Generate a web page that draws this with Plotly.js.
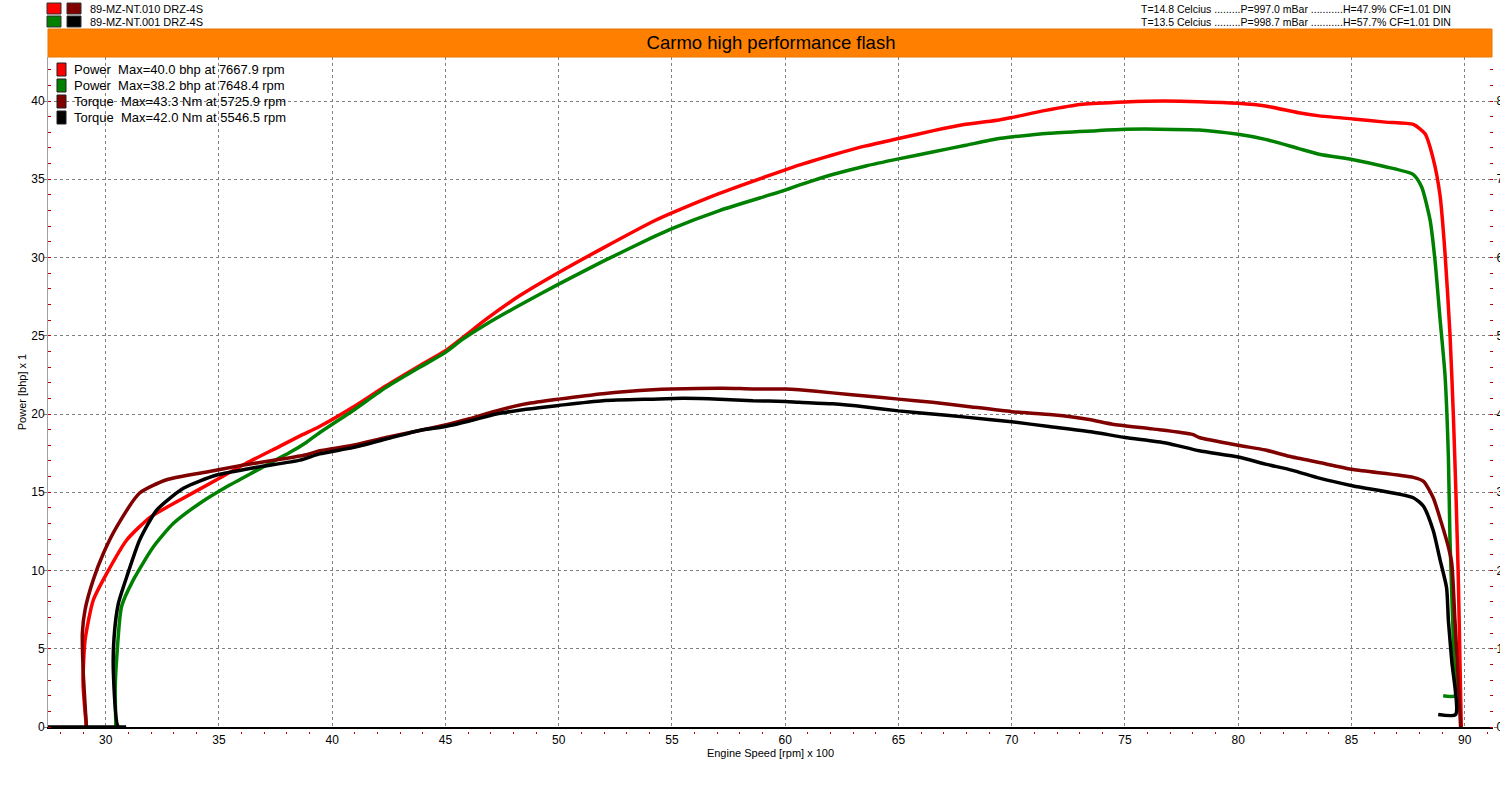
<!DOCTYPE html>
<html>
<head>
<meta charset="utf-8">
<script src="https://cdn.plot.ly/plotly-3.0.1.min.js"></script>
<style>html,body{margin:0;padding:0;background:#fff;}#chart{width:1500px;height:800px;}</style>
</head>
<body>
<div id="chart"></div>
<script>
// ---- Data (engine speed in rpm x 100) ----
const rpmPower010 = [29.15,29.0,29.09,29.45,30.04,30.93,31.96,33.28,34.9,36.2,37.7,38.58,39.44,40.91,42.38,43.86,45.0,45.77,46.8,48.27,50.0,51.95,54.16,55.0,57.1,60.0,60.61,61.51,62.09,63.56,65.0,66.5,67.97,69.44,70.0,71.5,73.13,75.0,76.68,78.28,80.0,81.2,82.67,83.58,85.08,86.5,87.73,88.25,88.61,88.91,89.13,89.35,89.5,89.62,89.72,89.79,89.85];
const power010 = [0,2.8,5.56,8.1,9.8,11.95,13.4,14.5,15.8,16.85,17.95,18.6,19.2,20.43,21.81,23.09,24.04,24.89,26.06,27.55,29.04,30.6,32.3,32.85,34.1,35.6,35.9,36.3,36.55,37.13,37.6,38.09,38.51,38.79,38.94,39.4,39.79,39.94,40.0,39.96,39.85,39.68,39.25,39.05,38.85,38.65,38.5,37.9,36.3,33.98,30.3,25.1,19.87,14.6,9.4,4.2,0];

const rpmPower001 = [30.45,30.42,30.49,30.7,31.22,32.1,32.98,34.16,35.34,36.67,38.14,38.87,39.44,40.91,42.38,43.86,45.0,45.77,46.8,48.27,50.0,51.95,54.16,55.0,57.1,60.0,60.61,61.51,62.09,63.56,65.0,66.5,67.97,69.44,70.0,71.65,73.57,75.0,76.48,78.28,80.0,81.2,82.67,83.58,85.08,86.5,87.73,88.1,88.47,88.69,88.91,89.13,89.28,89.35,89.47,89.53,89.57,89.05];
const power001 = [0,2.5,4.5,7.7,9.4,11.5,13.0,14.3,15.35,16.4,17.55,18.2,18.8,20.21,21.7,22.98,23.94,24.79,25.74,26.95,28.3,29.75,31.3,31.85,33.0,34.3,34.62,35.05,35.3,35.85,36.3,36.74,37.17,37.6,37.7,37.94,38.09,38.19,38.2,38.15,37.87,37.55,36.96,36.6,36.25,35.8,35.3,34.5,32.4,29.8,26.1,22.5,17.25,12.0,6.8,4.2,2.0,2.0];

const rpmTorque010 = [29.15,29.01,28.97,29.09,29.45,29.9,30.49,31.5,32.69,34.46,35.93,38.87,39.44,40.91,42.38,43.86,45.0,46.06,47.24,48.56,50.0,51.95,54.16,55.0,57.26,58.57,60.0,60.61,62.09,63.56,65.0,66.5,67.97,70.0,71.8,73.42,74.45,76.22,77.98,78.28,80.0,81.2,82.25,83.58,85.08,87.73,88.18,88.61,88.97,89.28,89.43,89.57,89.72,89.82];
const torque010 = [0,6.9,12.0,15.0,18.8,22.2,25.6,29.9,31.6,32.6,33.4,34.8,35.3,36.0,37.0,37.9,38.6,39.4,40.4,41.3,41.9,42.6,43.1,43.2,43.3,43.2,43.2,43.1,42.7,42.3,41.9,41.5,41.0,40.3,39.9,39.3,38.7,38.1,37.4,37.0,36.0,35.4,34.6,33.8,32.9,31.9,31.4,29.3,26.1,23.0,20.9,13.6,5.8,0];

const rpmTorque001 = [27.3,30.9,30.56,30.34,30.37,30.56,30.93,31.5,32.25,33.43,34.9,36.67,38.58,39.44,40.91,42.38,43.86,45.0,46.06,47.24,48.56,50.0,51.95,54.16,55.47,57.1,58.57,60.0,60.61,62.09,63.56,65.0,66.5,67.97,70.0,71.65,73.57,75.0,76.81,78.28,80.0,81.2,82.4,83.58,85.08,87.73,88.18,88.61,88.91,89.2,89.28,89.43,89.6,88.83];
const torque001 = [0,0,0,6.9,11.5,15.8,19.2,23.9,27.7,30.5,32.2,33.2,34.1,34.9,35.7,36.8,37.9,38.4,39.1,40.0,40.6,41.1,41.7,41.9,42.0,41.9,41.7,41.6,41.5,41.3,40.9,40.4,40.0,39.6,39.0,38.4,37.7,37.0,36.3,35.3,34.5,33.6,32.8,31.8,30.8,29.3,28.2,25.1,21.4,17.8,13.6,8.4,1.6,1.6];

const runNames = ['89-MZ-NT.010 DRZ-4S','89-MZ-NT.001 DRZ-4S'];
const conditions = ['T=14.8 Celcius .........P=997.0 mBar ...........H=47.9% CF=1.01 DIN',
                    'T=13.5 Celcius .........P=998.7 mBar ...........H=57.7% CF=1.01 DIN'];
const legendTexts = ['Power  Max=40.0 bhp at 7667.9 rpm','Power  Max=38.2 bhp at 7648.4 rpm',
                     'Torque  Max=43.3 Nm at 5725.9 rpm','Torque  Max=42.0 Nm at 5546.5 rpm'];
const seriesColors = ['#ff0000','#008000','#800000','#000000'];
const xTickVals = [30,35,40,45,50,55,60,65,70,75,80,85,90];

// ---- Layout geometry ----
const W=1500,H=800,L=48,R=7,T=57,B=69;
const PW=W-L-R, PH=H-T-B;
const pxX = p => (p-L)/PW;
const pxY = p => (H-B-p)/PH;
const yMax = (727-57)/15.65;
const FONT = 'Liberation Sans, Arial, sans-serif';

const lineStyle = c => ({color:c,width:3.5,shape:'spline',smoothing:0.6});
const traces = [
  {x:rpmPower010,y:power010,name:legendTexts[0],mode:'lines',line:lineStyle(seriesColors[0]),yaxis:'y',xaxis:'x'},
  {x:rpmPower001,y:power001,name:legendTexts[1],mode:'lines',line:lineStyle(seriesColors[1]),yaxis:'y',xaxis:'x'},
  {x:rpmTorque010,y:torque010,name:legendTexts[2],mode:'lines',line:lineStyle(seriesColors[2]),yaxis:'y2',xaxis:'x'},
  {x:rpmTorque001,y:torque001,name:legendTexts[3],mode:'lines',line:lineStyle(seriesColors[3]),yaxis:'y2',xaxis:'x'}
];

// minor x tick positions (every 1, skipping labelled ones)
const xMinor = [];
for (let v=28; v<=91; v++) if (v%5!==0) xMinor.push(v);

const shapes = [];
const annotations = [];
// orange title bar
shapes.push({type:'rect',xref:'paper',yref:'paper',x0:pxX(48),x1:pxX(1492),y0:pxY(57),y1:pxY(29),
  fillcolor:'#ff8000',line:{width:1,color:'#e87400'},layer:'above'});
// header run swatches
const swatchRows = [[seriesColors[0],seriesColors[2]],[seriesColors[1],seriesColors[3]]];
swatchRows.forEach((row,i)=>{
  const top = 3+i*13;
  row.forEach((c,j)=>{
    const left = 47+j*20;
    shapes.push({type:'rect',xref:'paper',yref:'paper',x0:pxX(left),x1:pxX(left+14),y0:pxY(top+11),y1:pxY(top),
      fillcolor:c,line:{width:1,color:'#303030'}});
  });
  annotations.push({xref:'paper',yref:'paper',x:pxX(88),y:pxY(top+6),xanchor:'left',yanchor:'middle',
    text:runNames[i],showarrow:false,font:{family:FONT,size:11,color:'#000'}});
  annotations.push({xref:'paper',yref:'paper',x:pxX(1453),y:pxY(top+6),xanchor:'right',yanchor:'middle',
    text:conditions[i],showarrow:false,font:{family:FONT,size:10.5,color:'#000'}});
});
// in-plot legend
legendTexts.forEach((t,i)=>{
  const top = 63+i*16;
  shapes.push({type:'rect',xref:'paper',yref:'paper',x0:pxX(57),x1:pxX(66),y0:pxY(top+13),y1:pxY(top),
    fillcolor:seriesColors[i],line:{width:1,color:'#202020'}});
  annotations.push({xref:'paper',yref:'paper',x:pxX(72),y:pxY(top+6.5),xanchor:'left',yanchor:'middle',
    text:t,showarrow:false,font:{family:FONT,size:13,color:'#000'}});
});

const layout = {
  width:W,height:H,
  margin:{l:L,r:R,t:T,b:B,pad:0},
  paper_bgcolor:'#ffffff',plot_bgcolor:'#ffffff',
  showlegend:false,
  font:{family:FONT,size:12,color:'#000'},
  title:{text:'Carmo high performance flash',x:771/W,xref:'container',xanchor:'center',
         y:1-43/H,yref:'container',yanchor:'middle',font:{family:FONT,size:18.5,color:'#000'}},
  xaxis:{range:[30+(48-105.7)/22.65, 30+(1493-105.7)/22.65],tickmode:'array',tickvals:xTickVals,
    ticks:'',ticklabelstandoff:1,showline:true,linecolor:'#000',linewidth:1.5,
    showgrid:true,gridcolor:'#808080',griddash:'3px,3px',gridwidth:1,zeroline:false,
    tickfont:{family:FONT,size:12},
    title:{text:'Engine Speed [rpm] x 100',font:{family:FONT,size:11},standoff:2}},
  xaxis2:{overlaying:'x',anchor:'free',position:0,matches:'x',tickmode:'array',tickvals:xMinor,
    ticks:'outside',ticklen:2,tickwidth:1,tickcolor:'#c00000',showticklabels:false,showline:false,
    showgrid:false,zeroline:false},
  yaxis:{domain:[4/PH,1],range:[0,yMax],dtick:5,tick0:0,ticks:'outside',ticklen:3,tickcolor:'#808080',
    showline:true,linecolor:'#a0a0a0',linewidth:1,showgrid:true,gridcolor:'#808080',griddash:'3px,3px',
    zeroline:false,tickfont:{family:FONT,size:12},ticklabelstandoff:-3,
    minor:{dtick:1,ticks:'inside',ticklen:3,tickcolor:'#c00000',showgrid:false},
    title:{text:'Power [bhp] x 1',font:{family:FONT,size:11},standoff:2}},
  yaxis2:{overlaying:'y',side:'right',range:[0,2*yMax],dtick:10,tick0:0,ticks:'outside',ticklen:3,
    tickcolor:'#808080',showline:false,showgrid:false,zeroline:false,tickfont:{family:FONT,size:12},
    ticklabelstandoff:-3,minor:{dtick:2,ticks:'inside',ticklen:3,tickcolor:'#c00000',showgrid:false}},
  shapes:shapes,
  annotations:annotations
};
// invisible helper trace so the minor-tick x axis is drawn
traces.push({x:[xTickVals[0]],y:[0],xaxis:'x2',yaxis:'y',mode:'markers',marker:{opacity:0},hoverinfo:'skip',showlegend:false});

Plotly.newPlot('chart',traces,layout,{displayModeBar:false,staticPlot:true});
</script>
</body>
</html>
